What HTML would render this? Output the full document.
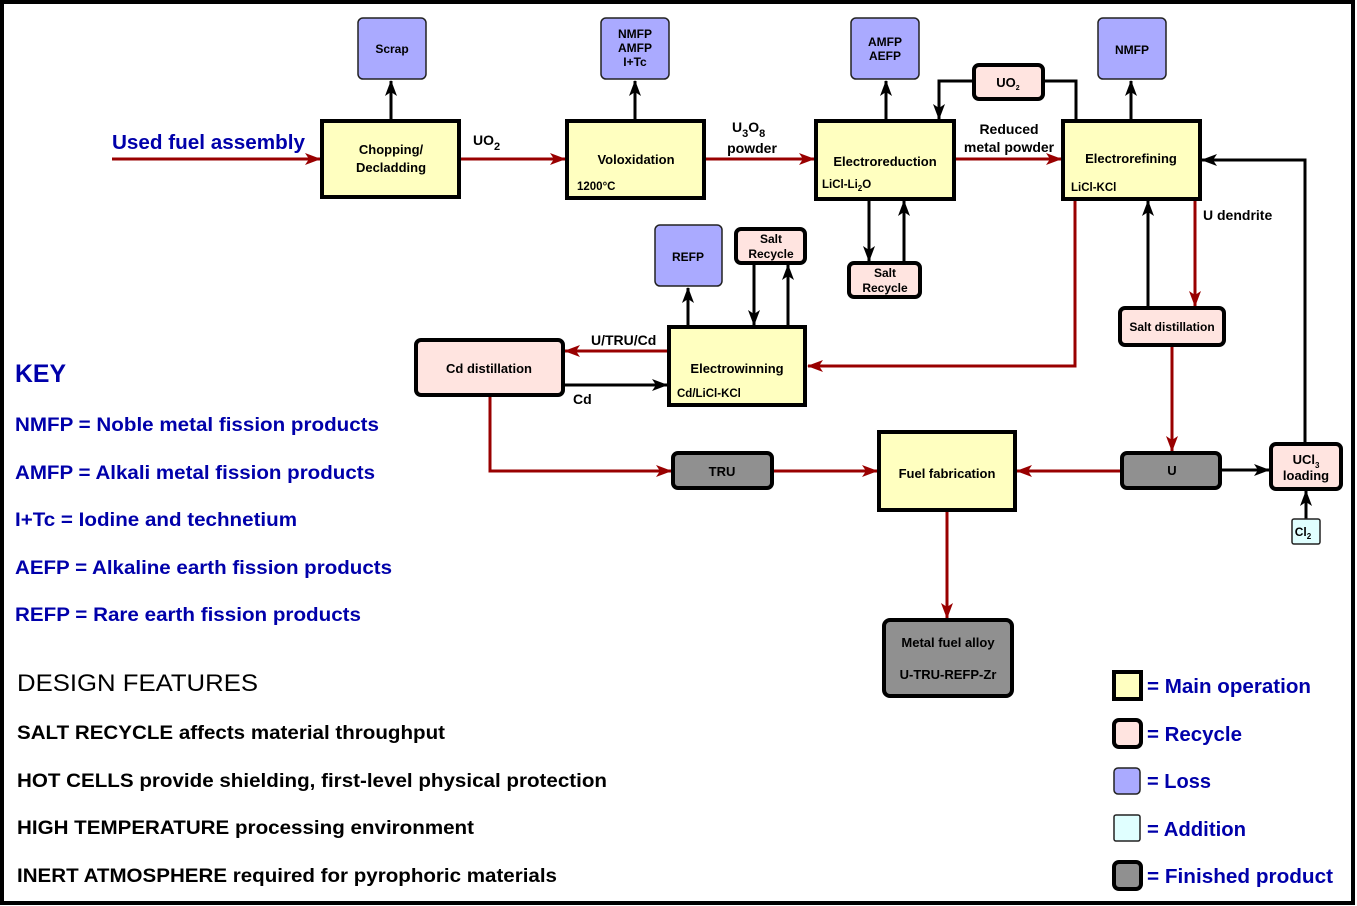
<!DOCTYPE html>
<html><head><meta charset="utf-8"><style>
html,body{margin:0;padding:0;background:#fff}
svg{display:block}
text{font-family:"Liberation Sans",Arial,sans-serif;font-weight:bold}
</style></head><body>
<svg width="1357" height="906" viewBox="0 0 1357 906" xmlns="http://www.w3.org/2000/svg">
<defs>
<marker id="ar" viewBox="0 0 16 12" refX="15" refY="6" markerWidth="16" markerHeight="12" markerUnits="userSpaceOnUse" orient="auto"><path d="M0,0 L16,6 L0,12 L4,6 Z" fill="#990000"/></marker>
<marker id="ab" viewBox="0 0 16 12" refX="15" refY="6" markerWidth="16" markerHeight="12" markerUnits="userSpaceOnUse" orient="auto"><path d="M0,0 L16,6 L0,12 L4,6 Z" fill="#000"/></marker>
</defs>
<rect x="2" y="2" width="1351" height="901" fill="#fff" stroke="#000" stroke-width="4"/>

<g stroke="#990000" stroke-width="3" fill="none" marker-end="url(#ar)">
<line x1="112" y1="159" x2="320" y2="159"/>
<line x1="459" y1="159" x2="565" y2="159"/>
<line x1="704" y1="159" x2="814" y2="159"/>
<line x1="954" y1="159" x2="1061" y2="159"/>
<polyline points="1075,199 1075,366 808,366"/>
<line x1="1195" y1="199" x2="1195" y2="306"/>
<line x1="1172" y1="345" x2="1172" y2="451"/>
<line x1="1122" y1="471" x2="1017" y2="471"/>
<line x1="669" y1="351" x2="565" y2="351"/>
<polyline points="490,395 490,471 671,471"/>
<line x1="772" y1="471" x2="877" y2="471"/>
<line x1="947" y1="510" x2="947" y2="618"/>
</g>
<g stroke="#000" stroke-width="3" fill="none" marker-end="url(#ab)">
<line x1="391" y1="121" x2="391" y2="81"/>
<line x1="635" y1="121" x2="635" y2="81"/>
<line x1="886" y1="121" x2="886" y2="81"/>
<line x1="1131" y1="121" x2="1131" y2="81"/>
<polyline points="974,81 939,81 939,119"/>
<line x1="869" y1="199" x2="869" y2="261"/>
<line x1="904" y1="263" x2="904" y2="201"/>
<line x1="1148" y1="308" x2="1148" y2="201"/>
<line x1="1220" y1="470" x2="1269" y2="470"/>
<polyline points="1305,444 1305,160 1202,160"/>
<line x1="1306" y1="519" x2="1306" y2="491"/>
<line x1="688" y1="327" x2="688" y2="288"/>
<line x1="754" y1="263" x2="754" y2="325"/>
<line x1="788" y1="327" x2="788" y2="265"/>
<line x1="563" y1="385" x2="667" y2="385"/>
</g>
<polyline points="1043,81 1076,81 1076,121" stroke="#000" stroke-width="3" fill="none"/>

<g fill="#ffffc0" stroke="#000" stroke-width="4">
<rect x="322" y="121" width="137" height="76"/>
<rect x="567" y="121" width="137" height="77"/>
<rect x="816" y="121" width="138" height="78"/>
<rect x="1063" y="121" width="137" height="78"/>
<rect x="669" y="327" width="136" height="78"/>
<rect x="879" y="432" width="136" height="78"/>
</g>
<g fill="#aaaaff" stroke="#222" stroke-width="1.5">
<rect x="358" y="18" width="68" height="61" rx="5"/>
<rect x="601" y="18" width="68" height="61" rx="5"/>
<rect x="851" y="18" width="68" height="61" rx="5"/>
<rect x="1098" y="18" width="68" height="61" rx="5"/>
<rect x="655" y="225" width="67" height="61" rx="5"/>
</g>
<g fill="#ffe4e0" stroke="#000" stroke-width="4">
<rect x="974" y="65" width="69" height="34" rx="5"/>
<rect x="849" y="263" width="71" height="34" rx="5"/>
<rect x="736" y="229" width="69" height="34" rx="5"/>
<rect x="416" y="340" width="147" height="55" rx="5"/>
<rect x="1120" y="308" width="104" height="37" rx="5"/>
<rect x="1271" y="444" width="70" height="45" rx="5"/>
</g>
<g fill="#909090" stroke="#000" stroke-width="4">
<rect x="673" y="453" width="99" height="35" rx="5"/>
<rect x="1122" y="453" width="98" height="35" rx="5"/>
<rect x="884" y="620" width="128" height="76" rx="6"/>
</g>
<rect x="1292" y="519" width="28" height="25" fill="#e0ffff" stroke="#222" stroke-width="1.5" rx="2"/>

<g font-size="13" text-anchor="middle" fill="#000">
<text x="391" y="154">Chopping/</text>
<text x="391" y="172">Decladding</text>
<text x="636" y="164">Voloxidation</text>
<text x="885" y="166">Electroreduction</text>
<text x="1131" y="163">Electrorefining</text>
<text x="737" y="373">Electrowinning</text>
<text x="947" y="478">Fuel fabrication</text>
<text x="489" y="373">Cd distillation</text>
<text x="1172" y="331" font-size="12">Salt distillation</text>
<text x="722" y="476">TRU</text>
<text x="1172" y="475">U</text>
<text x="948" y="647">Metal fuel alloy</text>
<text x="948" y="679">U-TRU-REFP-Zr</text>
<text x="1306" y="464">UCl<tspan font-size="8" dy="4">3</tspan></text>
<text x="1306" y="480">loading</text>
<text x="1303" y="536" font-size="12">Cl<tspan font-size="8" dy="3">2</tspan></text>
<text x="1008" y="87">UO<tspan font-size="7" dy="3">2</tspan></text>
<text x="885" y="277" font-size="12">Salt</text>
<text x="885" y="292" font-size="12">Recycle</text>
<text x="771" y="243" font-size="12">Salt</text>
<text x="771" y="258" font-size="12">Recycle</text>
<g font-size="12">
<text x="392" y="53">Scrap</text>
<text x="635" y="38">NMFP</text>
<text x="635" y="52">AMFP</text>
<text x="635" y="66">I+Tc</text>
<text x="885" y="46">AMFP</text>
<text x="885" y="60">AEFP</text>
<text x="1132" y="54">NMFP</text>
<text x="688" y="261">REFP</text>
</g>
</g>
<g font-size="11.5" fill="#000">
<text x="577" y="190">1200°C</text>
<text x="822" y="188">LiCl-Li<tspan font-size="8" dy="3">2</tspan><tspan dy="-3">O</tspan></text>
<text x="1071" y="191">LiCl-KCl</text>
<text x="677" y="397">Cd/LiCl-KCl</text>
</g>
<g font-size="14" fill="#000" font-weight="bold">
<text x="473" y="145">UO<tspan font-size="11" dy="5">2</tspan></text>
<text x="732" y="132">U<tspan font-size="11" dy="5">3</tspan><tspan dy="-5">O</tspan><tspan font-size="11" dy="5">8</tspan></text>
<text x="752" y="153" text-anchor="middle">powder</text>
<text x="1009" y="134" text-anchor="middle">Reduced</text>
<text x="1009" y="152" text-anchor="middle">metal powder</text>
<text x="1203" y="220">U dendrite</text>
<text x="591" y="345">U/TRU/Cd</text>
<text x="573" y="404">Cd</text>
</g>
<text x="112" y="149" font-size="20" fill="#0000aa" textLength="193" lengthAdjust="spacingAndGlyphs">Used fuel assembly</text>

<g fill="#0000aa">
<text x="15" y="382" font-size="25" textLength="51" lengthAdjust="spacingAndGlyphs">KEY</text>
<text x="15" y="431" font-size="19" textLength="364" lengthAdjust="spacingAndGlyphs">NMFP = Noble metal fission products</text>
<text x="15" y="479" font-size="19" textLength="360" lengthAdjust="spacingAndGlyphs">AMFP = Alkali metal fission products</text>
<text x="15" y="526" font-size="19" textLength="282" lengthAdjust="spacingAndGlyphs">I+Tc = Iodine and technetium</text>
<text x="15" y="574" font-size="19" textLength="377" lengthAdjust="spacingAndGlyphs">AEFP = Alkaline earth fission products</text>
<text x="15" y="621" font-size="19" textLength="346" lengthAdjust="spacingAndGlyphs">REFP = Rare earth fission products</text>
</g>
<g fill="#000">
<text x="17" y="691" font-size="24" style="font-weight:normal" textLength="241" lengthAdjust="spacingAndGlyphs">DESIGN FEATURES</text>
<text x="17" y="739" font-size="19" textLength="428" lengthAdjust="spacingAndGlyphs">SALT RECYCLE affects material throughput</text>
<text x="17" y="787" font-size="19" textLength="590" lengthAdjust="spacingAndGlyphs">HOT CELLS provide shielding, first-level physical protection</text>
<text x="17" y="834" font-size="19" textLength="457" lengthAdjust="spacingAndGlyphs">HIGH TEMPERATURE processing environment</text>
<text x="17" y="882" font-size="19" textLength="540" lengthAdjust="spacingAndGlyphs">INERT ATMOSPHERE required for pyrophoric materials</text>
</g>

<rect x="1114" y="672" width="27" height="27" fill="#ffffc0" stroke="#000" stroke-width="4"/>
<rect x="1114" y="720" width="27" height="27" rx="5" fill="#ffe4e0" stroke="#000" stroke-width="4"/>
<rect x="1114" y="768" width="26" height="26" rx="4" fill="#aaaaff" stroke="#222" stroke-width="1.5"/>
<rect x="1114" y="815" width="26" height="26" rx="2" fill="#e0ffff" stroke="#222" stroke-width="1.5"/>
<rect x="1114" y="862" width="27" height="27" rx="5" fill="#909090" stroke="#000" stroke-width="4"/>
<g fill="#0000aa" font-size="20">
<text x="1147" y="693" textLength="164" lengthAdjust="spacingAndGlyphs">= Main operation</text>
<text x="1147" y="741" textLength="95" lengthAdjust="spacingAndGlyphs">= Recycle</text>
<text x="1147" y="788" textLength="64" lengthAdjust="spacingAndGlyphs">= Loss</text>
<text x="1147" y="836" textLength="99" lengthAdjust="spacingAndGlyphs">= Addition</text>
<text x="1147" y="883" textLength="186" lengthAdjust="spacingAndGlyphs">= Finished product</text>
</g>
</svg>
</body></html>
